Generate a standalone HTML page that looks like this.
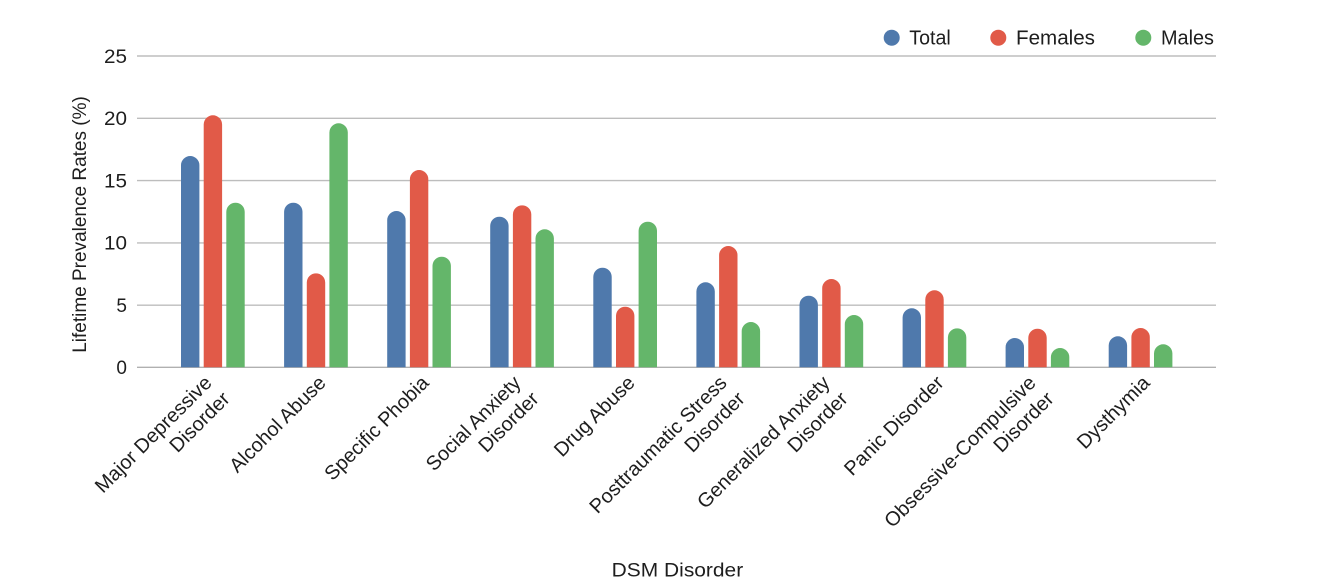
<!DOCTYPE html>
<html>
<head>
<meta charset="utf-8">
<style>
html,body{margin:0;padding:0;background:#fff;}
svg{display:block;}
text{font-family:"Liberation Sans",Arial,sans-serif;fill:#1e1e1e;}
</style>
</head>
<body>
<svg width="1336" height="586" viewBox="0 0 1336 586" xmlns="http://www.w3.org/2000/svg">
<!-- gridlines -->
<g stroke="#bdbdbd" stroke-width="1.4">
<line x1="137" y1="56" x2="1216" y2="56"/>
<line x1="137" y1="118.3" x2="1216" y2="118.3"/>
<line x1="137" y1="180.6" x2="1216" y2="180.6"/>
<line x1="137" y1="242.9" x2="1216" y2="242.9"/>
<line x1="137" y1="305.2" x2="1216" y2="305.2"/>
<line x1="137" y1="367.3" x2="1216" y2="367.3" stroke="#b0b0b0"/>
</g>
<!-- y tick labels -->
<g font-size="19" text-anchor="end">
<text x="127" y="62.8" textLength="23" lengthAdjust="spacingAndGlyphs">25</text>
<text x="127" y="125.1" textLength="23" lengthAdjust="spacingAndGlyphs">20</text>
<text x="127" y="187.4" textLength="23" lengthAdjust="spacingAndGlyphs">15</text>
<text x="127" y="249.7" textLength="23" lengthAdjust="spacingAndGlyphs">10</text>
<text x="127" y="312">5</text>
<text x="127" y="374.1">0</text>
</g>
<!-- y axis title -->
<text font-size="19" text-anchor="middle" transform="translate(86,224.5) rotate(-90)">Lifetime Prevalence Rates (%)</text>
<!-- bars -->
<g fill="#4f79ac">
<path d="M181 367.3V165.2A9.2 9.2 0 0 1 199.4 165.2V367.3Z"/>
<path d="M284.1 367.3V211.9A9.2 9.2 0 0 1 302.5 211.9V367.3Z"/>
<path d="M387.2 367.3V220.2A9.2 9.2 0 0 1 405.6 220.2V367.3Z"/>
<path d="M490.2 367.3V225.9A9.2 9.2 0 0 1 508.6 225.9V367.3Z"/>
<path d="M593.3 367.3V276.9A9.2 9.2 0 0 1 611.7 276.9V367.3Z"/>
<path d="M696.4 367.3V291.5A9.2 9.2 0 0 1 714.8 291.5V367.3Z"/>
<path d="M799.5 367.3V304.9A9.2 9.2 0 0 1 817.9 304.9V367.3Z"/>
<path d="M902.6 367.3V317.5A9.2 9.2 0 0 1 921 317.5V367.3Z"/>
<path d="M1005.6 367.3V347.2A9.2 9.2 0 0 1 1024 347.2V367.3Z"/>
<path d="M1108.7 367.3V345.5A9.2 9.2 0 0 1 1127.1 345.5V367.3Z"/>
</g>
<g fill="#e15a48">
<path d="M203.7 367.3V124.5A9.2 9.2 0 0 1 222.1 124.5V367.3Z"/>
<path d="M306.8 367.3V282.5A9.2 9.2 0 0 1 325.2 282.5V367.3Z"/>
<path d="M409.9 367.3V179.2A9.2 9.2 0 0 1 428.3 179.2V367.3Z"/>
<path d="M512.9 367.3V214.5A9.2 9.2 0 0 1 531.3 214.5V367.3Z"/>
<path d="M616 367.3V315.9A9.2 9.2 0 0 1 634.4 315.9V367.3Z"/>
<path d="M719.1 367.3V255.2A9.2 9.2 0 0 1 737.5 255.2V367.3Z"/>
<path d="M822.2 367.3V288.2A9.2 9.2 0 0 1 840.6 288.2V367.3Z"/>
<path d="M925.3 367.3V299.5A9.2 9.2 0 0 1 943.7 299.5V367.3Z"/>
<path d="M1028.3 367.3V337.9A9.2 9.2 0 0 1 1046.7 337.9V367.3Z"/>
<path d="M1131.4 367.3V337.2A9.2 9.2 0 0 1 1149.8 337.2V367.3Z"/>
</g>
<g fill="#64b66a">
<path d="M226.3 367.3V211.9A9.2 9.2 0 0 1 244.7 211.9V367.3Z"/>
<path d="M329.4 367.3V132.5A9.2 9.2 0 0 1 347.8 132.5V367.3Z"/>
<path d="M432.5 367.3V265.9A9.2 9.2 0 0 1 450.9 265.9V367.3Z"/>
<path d="M535.5 367.3V238.5A9.2 9.2 0 0 1 553.9 238.5V367.3Z"/>
<path d="M638.6 367.3V230.9A9.2 9.2 0 0 1 657 230.9V367.3Z"/>
<path d="M741.7 367.3V331.2A9.2 9.2 0 0 1 760.1 331.2V367.3Z"/>
<path d="M844.8 367.3V324.2A9.2 9.2 0 0 1 863.2 324.2V367.3Z"/>
<path d="M947.9 367.3V337.5A9.2 9.2 0 0 1 966.3 337.5V367.3Z"/>
<path d="M1050.9 367.3V357.2A9.2 9.2 0 0 1 1069.3 357.2V367.3Z"/>
<path d="M1154 367.3V353.5A9.2 9.2 0 0 1 1172.4 353.5V367.3Z"/>
</g>
<!-- x labels -->
<g font-size="20" text-anchor="end">
<text transform="translate(213,384) rotate(-45)">Major Depressive</text>
<text transform="translate(231,400) rotate(-45)">Disorder</text>
<text transform="translate(327,384) rotate(-45)">Alcohol Abuse</text>
<text transform="translate(430,384) rotate(-45)">Specific Phobia</text>
<text transform="translate(522,384) rotate(-45)">Social Anxiety</text>
<text transform="translate(540,400) rotate(-45)">Disorder</text>
<text transform="translate(636,384) rotate(-45)">Drug Abuse</text>
<text transform="translate(728,384) rotate(-45)">Posttraumatic Stress</text>
<text transform="translate(746,400) rotate(-45)">Disorder</text>
<text transform="translate(831,384) rotate(-45)">Generalized Anxiety</text>
<text transform="translate(849,400) rotate(-45)">Disorder</text>
<text transform="translate(945,384) rotate(-45)">Panic Disorder</text>
<text transform="translate(1037,384) rotate(-45)">Obsessive-Compulsive</text>
<text transform="translate(1055,400) rotate(-45)">Disorder</text>
<text transform="translate(1151,384) rotate(-45)">Dysthymia</text>
</g>
<!-- x axis title -->
<text x="611.7" y="576.7" font-size="19" textLength="131.5" lengthAdjust="spacingAndGlyphs">DSM Disorder</text>
<!-- legend -->
<circle cx="891.7" cy="37.7" r="8" fill="#4f79ac"/>
<text x="909.3" y="44.3" font-size="20" textLength="41.4" lengthAdjust="spacingAndGlyphs">Total</text>
<circle cx="998.3" cy="37.7" r="8" fill="#e15a48"/>
<text x="1016" y="44.3" font-size="20" textLength="79" lengthAdjust="spacingAndGlyphs">Females</text>
<circle cx="1143.3" cy="37.7" r="8" fill="#64b66a"/>
<text x="1161" y="44.3" font-size="20" textLength="53" lengthAdjust="spacingAndGlyphs">Males</text>
</svg>
</body>
</html>
